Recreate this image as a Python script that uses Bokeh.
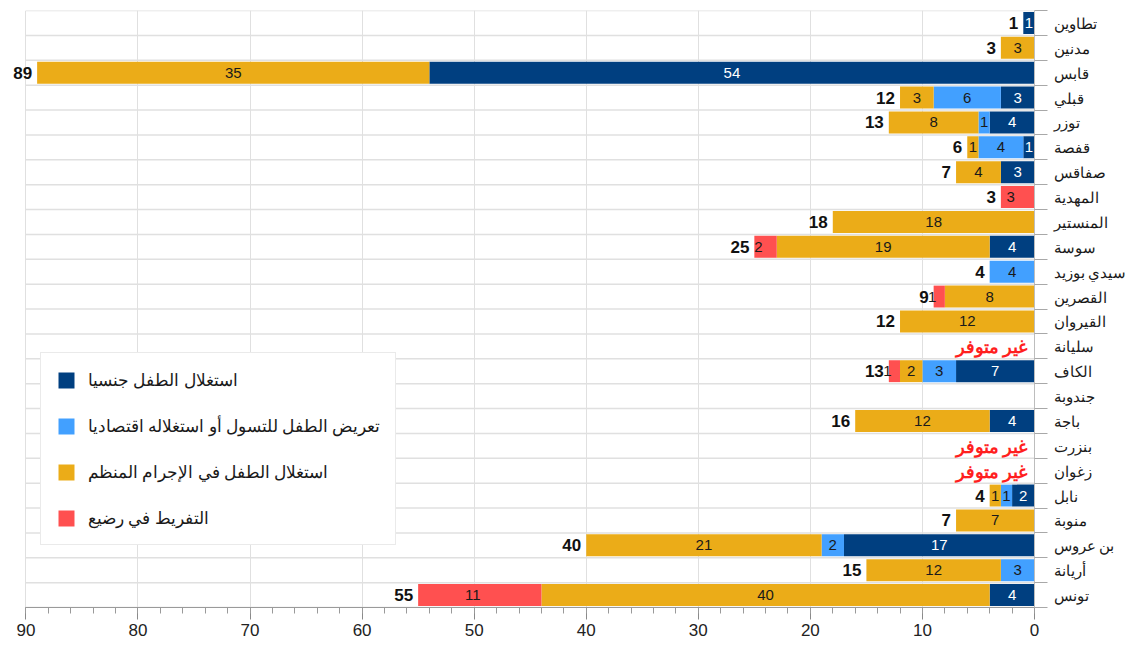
from bokeh.plotting import figure
from bokeh.models import (ColumnDataSource, Range1d, FixedTicker, LinearAxis)
from bokeh.core.properties import value
from bokeh.embed import file_html
from bokeh.resources import INLINE

regions = ["تطاوين", "مدنين", "قابس", "قبلي", "توزر", "قفصة", "صفاقس", "المهدية",
           "المنستير", "سوسة", "سيدي بوزيد", "القصرين", "القيروان", "سليانة", "الكاف",
           "جندوبة", "باجة", "بنزرت", "زغوان", "نابل", "منوبة", "بن عروس", "أريانة", "تونس"]
sexual  = [1, 0, 54, 3, 4, 1, 3, 0, 0, 4, 0, 0, 0, 0, 7, 0, 4, 0, 0, 2, 0, 17, 0, 4]
begging = [0, 0, 0, 6, 1, 4, 0, 0, 0, 0, 4, 0, 0, 0, 3, 0, 0, 0, 0, 1, 0, 2, 3, 0]
crime   = [0, 3, 35, 3, 8, 1, 4, 0, 18, 19, 0, 8, 12, 0, 2, 0, 12, 0, 0, 1, 7, 21, 12, 40]
neglect = [0, 0, 0, 0, 0, 0, 0, 3, 0, 2, 0, 1, 0, 0, 1, 0, 0, 0, 0, 0, 0, 0, 0, 11]
not_available = ["سليانة", "بنزرت", "زغوان"]
na_text = "غير متوفر"
series_names = ["استغلال الطفل جنسيا",
                "تعريض الطفل للتسول أو استغلاله اقتصاديا",
                "استغلال الطفل في الإجرام المنظم",
                "التفريط في رضيع"]
colors = ["#003F80", "#42A0FF", "#EBAC18", "#FF5050"]
label_colors = ["#ffffff", "#1a1a1a", "#1a1a1a", "#1a1a1a"]
x_ticks = [0, 10, 20, 30, 40, 50, 60, 70, 80, 90]
x_max = 90

n = len(regions)
ypos = [i + 0.5 for i in range(n)]
src = ColumnDataSource(dict(y=ypos, s0=sexual, s1=begging, s2=crime, s3=neglect))

# a little room beyond 90 so that the "89" total label is not clipped
p = figure(width=1129, height=638, output_backend="svg", toolbar_location=None,
           x_range=Range1d(92, 0), y_range=Range1d(n, 0),
           y_axis_location=None, min_border_left=3, min_border_top=10,
           min_border_right=0)
p.background_fill_color = "white"
p.border_fill_color = "white"
p.outline_line_color = None

# grid: vertical lines at ticks (the one at 90 is the left border)
p.xgrid.ticker = FixedTicker(ticks=x_ticks)
p.xgrid.grid_line_color = "#e0e0e0"
p.ygrid.grid_line_color = None

# row boundaries, limited to the 0..90 span
bounds = list(range(n + 1))
p.segment(x0=[0] * len(bounds), x1=[x_max] * len(bounds), y0=bounds, y1=bounds,
          line_color="#e0e0e0", line_width=1.5)

# bottom axis
xa = p.xaxis[0]
xa.bounds = (0, x_max)
xa.ticker = FixedTicker(ticks=x_ticks, minor_ticks=list(range(0, x_max + 1, 2)))
xa.major_tick_out = 12
xa.major_tick_in = 0
xa.minor_tick_out = 6
xa.minor_tick_in = 0
xa.axis_line_color = "#9a9a9a"
xa.major_tick_line_color = "#8a8a8a"
xa.minor_tick_line_color = "#9a9a9a"
xa.major_label_text_font = "Liberation Sans"
xa.major_label_text_font_size = "17px"
xa.major_label_text_color = "#222222"
xa.major_label_standoff = 4

# right axes: boundary ticks and category labels
tick_axis = LinearAxis(ticker=FixedTicker(ticks=bounds),
                       major_label_overrides={i: "" for i in bounds},
                       major_tick_out=13, major_tick_in=0, major_label_standoff=0,
                       axis_line_color="#bdbdbd", major_tick_line_color="#a8a8a8",
                       minor_tick_line_color=None)
p.add_layout(tick_axis, "right")
label_axis = LinearAxis(ticker=FixedTicker(ticks=ypos),
                        major_label_overrides={y: r for y, r in zip(ypos, regions)},
                        major_tick_out=0, major_tick_in=0, major_label_standoff=6,
                        axis_line_color=None, major_tick_line_color=None,
                        minor_tick_line_color=None,
                        major_label_text_font="Noto Sans",
                        major_label_text_font_size="15px",
                        major_label_text_color="#1a1a1a")
p.add_layout(label_axis, "right")

# bars
renderers = p.hbar_stack(["s0", "s1", "s2", "s3"], y="y", height=0.88, color=colors,
                         line_color=None, source=src, legend_label=series_names)

# segment labels
series = [sexual, begging, crime, neglect]
lx, ly, lt, lc, loff = [], [], [], [], []
for i in range(n):
    left = 0
    for k, vals in enumerate(series):
        v = vals[i]
        if v > 0:
            lx.append(left + v / 2)
            ly.append(ypos[i])
            lt.append(str(v))
            lc.append(label_colors[k])
            loff.append(-7 if k == 3 else 0)
        left += v
lsrc = ColumnDataSource(dict(x=lx, y=ly, t=lt, c=lc, o=loff))
p.text(x="x", y="y", text="t", text_color="c", x_offset="o", source=lsrc,
       text_align="center", text_baseline="middle",
       text_font=value("Liberation Sans"), text_font_size="15px")

# totals
totals = [sexual[i] + begging[i] + crime[i] + neglect[i] for i in range(n)]
tx = [totals[i] for i in range(n) if totals[i] > 0]
ty = [ypos[i] for i in range(n) if totals[i] > 0]
tt = [str(totals[i]) for i in range(n) if totals[i] > 0]
tsrc = ColumnDataSource(dict(x=tx, y=ty, t=tt))
p.text(x="x", y="y", text="t", source=tsrc, text_align="right",
       text_baseline="middle", x_offset=-5, text_color="#111111",
       text_font=value("Liberation Sans"), text_font_style="bold",
       text_font_size="17px")

# not available
ny = [ypos[regions.index(r)] for r in not_available]
nsrc = ColumnDataSource(dict(x=[0] * len(ny), y=ny, t=[na_text] * len(ny)))
p.text(x="x", y="y", text="t", source=nsrc, text_align="right",
       text_baseline="middle", x_offset=-7, text_color="#ff1f1f",
       text_font=value("Noto Sans"), text_font_style="bold",
       text_font_size="18px")

# legend
lg = p.legend[0]
lg.location = (37, 62)
lg.glyph_width = 20
lg.glyph_height = 20
lg.label_height = 20
lg.label_standoff = 12
lg.spacing = 23
lg.padding = 15
lg.margin = 0
lg.border_line_color = "#d6d6d6"
lg.background_fill_color = "white"
lg.background_fill_alpha = 1
lg.label_text_font = "Noto Sans"
lg.label_text_font_size = "16.5px"
lg.label_text_color = "#1a1a1a"

open("out.html", "w").write(file_html(p, INLINE))
